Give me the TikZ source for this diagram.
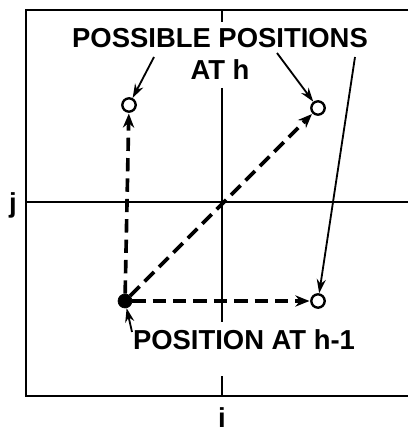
\documentclass[tikz,border=0pt]{standalone}
\usepackage{fontspec}
\setmainfont{Liberation Sans}
\usetikzlibrary{arrows.meta,positioning}
\tikzset{
  opos/.style={draw, circle, line width=1.7pt, fill=white,
               minimum size=9.5pt, inner sep=0pt},
  fpos/.style={draw, circle, fill=black, minimum size=10pt, inner sep=0pt},
  move/.style={line width=2.6pt, dash pattern=on 9.5pt off 5pt,
               -{Stealth[length=10pt, width=8pt]}, shorten >=0.5pt},
  leader/.style={line width=1.3pt, -{Stealth[length=10pt, width=6.5pt]}},
  lbl/.style={font=\bfseries\fontsize{19.5}{23}\selectfont, inner sep=0pt,
              align=center},
  axis/.style={line width=1.8pt},
}

\begin{document}
\begin{tikzpicture}[x=0.025cm, y=-0.025cm]
\useasboundingbox (0,0) rectangle (408,432);

% Frame and axes
\draw[axis] (408,10) -- (26,10) -- (26,396) -- (408,396);
\draw[axis] (26,202) -- (408,202);
\draw[axis] (222,10) -- (222,22);
\draw[axis] (222,88) -- (222,322);
\draw[axis] (222,376) -- (222,396);
\node[lbl] (jlab) at (13,205) {j};
\node[lbl] (ilab) at (222,418) {i};

% Positions
\node[fpos] (prev) at (125,301) {};
\node[opos] (posA) at (129,105) {};
\node[opos] (posB) at (318,108) {};
\node[opos] (posC) at (318,301) {};

% Moves
\draw[move] (prev) -- (posA);
\draw[move] (prev) -- (posB);
\draw[move] (prev) -- (posC);

% Labels
\node[lbl] (possible) at (220,54) {POSSIBLE POSITIONS\\AT h};
\node[lbl] (prevlab) at (244,340) {POSITION AT h-1};

% Leaders
\coordinate (lA) at (154,57);
\coordinate (lB) at (277,53);
\coordinate (lC) at (355,57);
\coordinate (lP) at (132,332);
\draw[leader] (lA) -- (posA);
\draw[leader] (lB) -- (posB);
\draw[leader] (lC) -- (posC);
\draw[leader] (lP) -- (prev);

\end{tikzpicture}
\end{document}
